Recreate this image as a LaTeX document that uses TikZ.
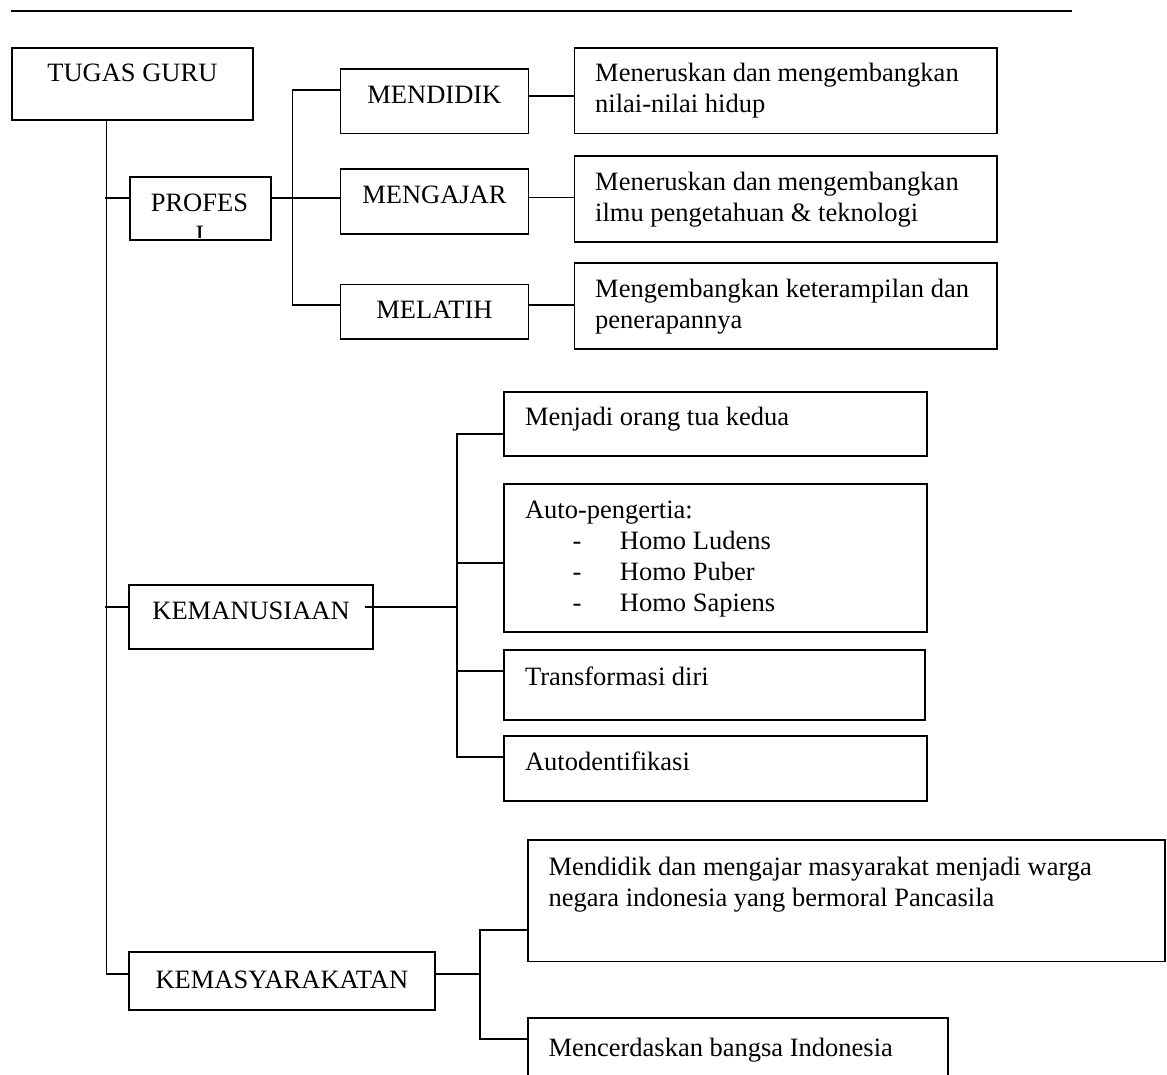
\documentclass[tikz,border=0pt]{standalone}
\usepackage{fontspec}
\setmainfont{Liberation Serif}
\usetikzlibrary{calc}
\tikzset{
  box/.style={draw, line width=1.8pt, inner sep=0pt, anchor=north west},
  cat/.style={anchor=base, inner sep=0pt},
  desc/.style={anchor=north west, inner sep=0pt, align=left},
  link/.style={line width=1.8pt},
}
\newcommand\bx[5]{\node[box, minimum width={(#4-#2)*1pt}, minimum height={(#5-#3)*1pt}] (#1) at (#2,#3) {};}
\newcommand\fr{\rule{0pt}{20pt}}
\begin{document}
\begin{tikzpicture}[x=1pt,y=-1pt,font=\fontsize{26.5}{31}\selectfont]
\useasboundingbox (0,0) rectangle (1167,1075);
% header rule
\coordinate (ruleL) at (11,11);
\coordinate (ruleR) at (1072,11);
\draw[line width=2pt] (ruleL) -- (ruleR);

% boxes
\bx{tugas}{11}{47}{252}{119}
\bx{profes}{129}{176}{270}{239}
\bx{mendidik}{339.5}{68.5}{527.5}{132.7}
\bx{mengajar}{339.5}{168.3}{527.5}{233.3}
\bx{melatih}{339.5}{283.7}{527.5}{338.3}
\bx{d1}{573.5}{47.3}{996}{132.7}
\bx{d2}{573.5}{155}{996}{241}
\bx{d3}{573.5}{262.3}{996}{348.3}
\bx{kemanu}{128.3}{584.3}{372}{647.7}
\bx{k1}{503.3}{390.7}{926}{455}
\bx{k2}{503.3}{482.7}{926}{631.3}
\bx{k3}{503.3}{649.3}{924.3}{719.3}
\bx{k4}{503.3}{735}{926}{800}
\bx{kemas}{128}{951}{434}{1009}
\bx{m1}{527}{839.3}{1164}{960.5}
\bx{m2}{527}{1017}{947}{1085}

% category texts
\node[cat] (ttugas) at ($(tugas.north)+(0,34.5)$) {TUGAS GURU};
\begin{scope}
  \clip (130,177) rectangle (269,238);
  \node[cat] (tprofes) at ($(profes.north)+(-1,35.7)$) {PROFES};
  \node[cat] (tprofesi) at ($(profes.north)+(-0.5,67.2)$) {I};
\end{scope}
\node[cat] (tmendidik) at ($(mendidik.north)+(0,35)$) {MENDIDIK};
\node[cat] (tmengajar) at ($(mengajar.north)+(0,35)$) {MENGAJAR};
\node[cat] (tmelatih) at ($(melatih.north)+(0,34.6)$) {MELATIH};
\node[cat] (tkemanu) at ($(kemanu.north)+(0,35)$) {KEMANUSIAAN};
\node[cat] (tkemas) at ($(kemas.north)+(0,37)$) {KEMASYARAKATAN};

% description texts
\node[desc] (td1) at ($(d1.north west)+(21.5,14.5)$) {\fr Meneruskan dan mengembangkan\\nilai-nilai hidup};
\node[desc] (td2) at ($(d2.north west)+(21.5,15)$) {\fr Meneruskan dan mengembangkan\\ilmu pengetahuan \& teknologi};
\node[desc] (td3) at ($(d3.north west)+(21.5,15)$) {\fr Mengembangkan keterampilan dan\\penerapannya};
\node[desc] (tk1) at ($(k1.north west)+(21.5,14.5)$) {\fr Menjadi orang tua kedua};
\node[desc] (tk2) at ($(k2.north west)+(21.5,16)$) {\fr Auto-pengertia:\\
  \hspace*{47.7pt}\makebox[47.3pt][l]{-}Homo Ludens\\
  \hspace*{47.7pt}\makebox[47.3pt][l]{-}Homo Puber\\
  \hspace*{47.7pt}\makebox[47.3pt][l]{-}Homo Sapiens};
\node[desc] (tk3) at ($(k3.north west)+(21.5,15.7)$) {\fr Transformasi diri};
\node[desc] (tk4) at ($(k4.north west)+(21.5,15.7)$) {\fr Autodentifikasi};
\node[desc] (tm1) at ($(m1.north west)+(21.3,15.7)$) {\fr Mendidik dan mengajar masyarakat menjadi warga\\negara indonesia yang bermoral Pancasila};
\node[desc] (tm2) at ($(m2.north west)+(21.3,19.5)$) {\fr Mencerdaskan bangsa Indonesia};

% junction coordinates
\coordinate (jP) at (106.5,198);
\coordinate (jKm) at (106.5,606.7);
\coordinate (jKs) at (106.5,974);
\coordinate (a1) at (292.5,90);
\coordinate (a2) at (292.5,197.7);
\coordinate (a3) at (292.5,305);
\coordinate (r1) at (550,96);
\coordinate (r2) at (550,197.5);
\coordinate (r3) at (550,305.3);
\coordinate (b0) at (456.7,606.7);
\coordinate (b1) at (456.7,434);
\coordinate (b2) at (456.7,563.3);
\coordinate (b3) at (456.7,670.7);
\coordinate (b4) at (456.7,756.7);
\coordinate (c0) at (480,974);
\coordinate (c1) at (480,930);
\coordinate (c2) at (480,1039);

% connectors
\draw[link] (tugas.south -| jP) -- (jKs) -- (jKs -| kemas.west);
\draw[link] ([xshift=-1.5pt]jP) -- (jP -| profes.west);
\draw[link] ([xshift=-1.5pt]jKm) -- (jKm -| kemanu.west);
\draw[link] (profes.east |- a2) -- (a2 -| mengajar.west);
\draw[link] (a1 -| mendidik.west) -- (a1) -- (a3) -- (a3 -| melatih.west);
\draw[link] (r1 -| mendidik.east) -- (r1 -| d1.west);
\draw[link] (r2 -| mengajar.east) -- (r2 -| d2.west);
\draw[link] (r3 -| melatih.east) -- (r3 -| d3.west);
\draw[link] ($(b0 -| kemanu.east)+(-9.3,0)$) -- (b0);
\draw[link] (b1 -| k1.west) -- (b1) -- (b4) -- (b4 -| k4.west);
\draw[link] (b2) -- (b2 -| k2.west);
\draw[link] (b3) -- (b3 -| k3.west);
\draw[link] (kemas.east |- c0) -- (c0);
\draw[link] (c1 -| m1.west) -- (c1) -- (c2) -- (c2 -| m2.west);
\end{tikzpicture}
\end{document}
